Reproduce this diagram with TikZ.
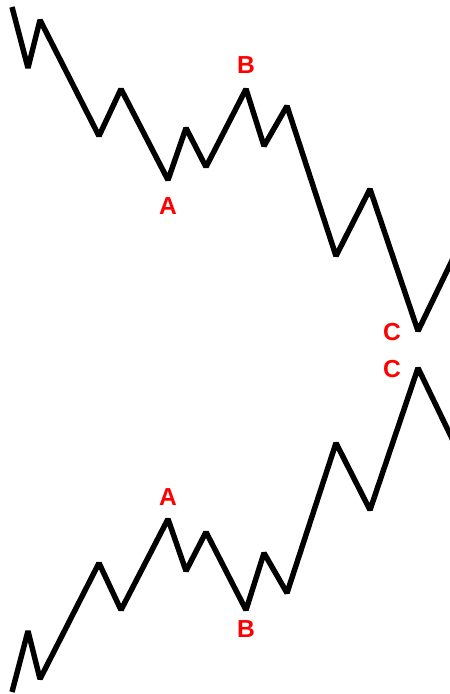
\documentclass[tikz,border=0pt]{standalone}
\usepackage{fontspec}
\setmainfont{Liberation Sans}
\usepackage{xcolor}
\usepackage{tikz}
\definecolor{WRed}{HTML}{FF0000}

\begin{document}
\begin{tikzpicture}[
  x=0.02cm,y=-0.02cm,
  wave/.style={line width=3.1pt,black,line join=miter,miter limit=2},
  lbl/.style={text=WRed,font=\fontsize{14}{14}\selectfont\bfseries,inner sep=0pt}
]
  \useasboundingbox (0,0) rectangle (450,694);
  \clip (0,0) rectangle (450,694);
  % upper wave (falling)
  \draw[wave] plot coordinates {(12,7) (28,68) (40,20) (99,136) (121,89)
    (168,180) (186,128) (206,167) (246,89) (264,146) (287,106)
    (336,256) (370,189) (418,331) (460,244)};
  % lower wave, mirror image (rising)
  \begin{scope}[yshift=-699*0.02cm,y=0.02cm]
    \draw[wave] plot coordinates {(12,7) (28,68) (40,20) (99,136) (121,89)
      (168,180) (186,128) (206,167) (246,89) (264,146) (287,106)
      (336,256) (370,189) (418,331) (460,244)};
  \end{scope}
  \node[lbl] (upA) at (168,206) {A};
  \node[lbl] (upB) at (246,65) {B};
  \node[lbl] (upC) at (392,332) {C};
  \node[lbl] (loC) at (392,369) {C};
  \node[lbl] (loA) at (168,497) {A};
  \node[lbl] (loB) at (246,629) {B};
\end{tikzpicture}
\end{document}
